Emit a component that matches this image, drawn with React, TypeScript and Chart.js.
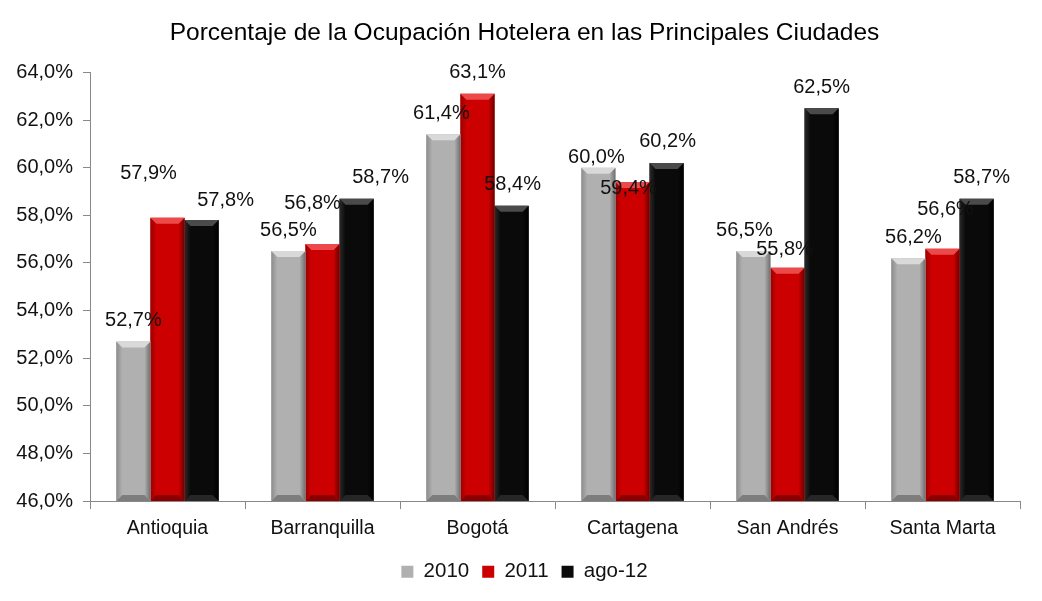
import React, { useEffect, useRef } from "react";
import { Chart, registerables } from "chart.js";
Chart.register(...registerables);

const categories = ["Antioquia", "Barranquilla", "Bogotá", "Cartagena", "San Andrés", "Santa Marta"];
const seriesNames = ["2010", "2011", "ago-12"];
const values2010 = [52.7, 56.5, 61.4, 60.0, 56.5, 56.2];
const values2011 = [57.9, 56.8, 63.1, 59.4, 55.8, 56.6];
const valuesAgo12 = [57.8, 58.7, 58.4, 60.2, 62.5, 58.7];
const yMin = 46;
const yMax = 64;
const yStep = 2;

// label nudges [dx, dy] in px per series / category (styling only)
const labelNudge: number[][][] = [
  [[0, 0], [0, 0], [-2, 0], [-2, 11], [-9, 0], [5, 0]],
  [[-19, -23], [-10, -19], [0, 0], [-4, 28], [-3, 3], [3, -18]],
  [[24, 1], [24, 0], [1, 0], [1, 0], [0, 0], [5, 0]],
];

const faces = ["#b0b0b0", "#cc0000", "#0a0a0a"];
const bevels = [
  { top: "#d9d9d9", left: "#8c8c8c", right: "#6e6e6e", bottom: "#7d7d7d" },
  { top: "#ec4a4a", left: "#9a0000", right: "#6a0000", bottom: "#8a0000" },
  { top: "#4a4a4a", left: "#2a2a2a", right: "#000000", bottom: "#262626" },
];

const FONT = "'Liberation Sans', Arial, sans-serif";
const fmt = (v: number) => v.toFixed(1).replace(".", ",") + "%";

const bevelPlugin = {
  id: "bevel",
  afterDatasetDraw(chart: any, args: any) {
    const i = args.index;
    const meta = chart.getDatasetMeta(i);
    const ctx = chart.ctx;
    const b = 6;
    const c = bevels[i];
    ctx.save();
    meta.data.forEach((el: any) => {
      const L = el.x - el.width / 2;
      const R = el.x + el.width / 2;
      const T = el.y;
      const B = Math.min(el.base, chart.chartArea.bottom);
      const poly = (pts: number[][], fill: any) => {
        ctx.beginPath();
        ctx.moveTo(pts[0][0], pts[0][1]);
        for (let k = 1; k < pts.length; k++) ctx.lineTo(pts[k][0], pts[k][1]);
        ctx.closePath();
        ctx.fillStyle = fill;
        ctx.fill();
      };
      const gl = ctx.createLinearGradient(L, 0, L + b, 0);
      gl.addColorStop(0, c.left);
      gl.addColorStop(1, faces[i]);
      poly([[L, T], [L + b, T + b], [L + b, B - b], [L, B]], gl);
      const gr = ctx.createLinearGradient(R - b, 0, R, 0);
      gr.addColorStop(0, faces[i]);
      gr.addColorStop(1, c.right);
      poly([[R, T], [R - b, T + b], [R - b, B - b], [R, B]], gr);
      poly([[L, T], [R, T], [R - b, T + b], [L + b, T + b]], c.top);
      poly([[L, B], [R, B], [R - b, B - b], [L + b, B - b]], c.bottom);
    });
    ctx.restore();
  },
};

const labelPlugin = {
  id: "valueLabels",
  afterDatasetsDraw(chart: any) {
    const ctx = chart.ctx;
    ctx.save();
    ctx.font = `20px ${FONT}`;
    ctx.fillStyle = "#111";
    ctx.textAlign = "center";
    ctx.textBaseline = "middle";
    chart.data.datasets.forEach((ds: any, i: number) => {
      const meta = chart.getDatasetMeta(i);
      meta.data.forEach((el: any, j: number) => {
        const [dx, dy] = labelNudge[i][j];
        ctx.fillText(fmt(ds.data[j]), el.x + dx, el.y - 21 + dy);
      });
    });
    ctx.restore();
  },
};

export default function App() {
  const ref = useRef<HTMLCanvasElement>(null);
  useEffect(() => {
    document.body.style.margin = "0";
    const chart = new Chart(ref.current!, {
      type: "bar",
      data: {
        labels: categories,
        datasets: [values2010, values2011, valuesAgo12].map((d, i) => ({
          label: seriesNames[i],
          data: d,
          backgroundColor: faces[i],
          borderWidth: 0,
          categoryPercentage: 0.66,
          barPercentage: 1.0,
        })),
      },
      options: {
        responsive: false,
        animation: false,
        layout: { padding: { left: 7, right: 0, top: 0, bottom: 9 } },
        plugins: {
          title: {
            display: true,
            text: "Porcentaje de la Ocupación Hotelera en las Principales Ciudades",
            color: "#000",
            font: { family: FONT, size: 24.5, weight: "normal" },
            padding: { top: 19, bottom: 24 },
          },
          legend: {
            position: "bottom",
            labels: {
              color: "#111",
              font: { family: FONT, size: 20.5 },
              boxWidth: 12,
              boxHeight: 12,
              padding: 13,
            },
          },
          tooltip: { enabled: false },
        },
        scales: {
          x: {
            grid: { drawOnChartArea: false, tickLength: 8, color: "#888", offset: true },
            border: { color: "#888" },
            ticks: { color: "#111", font: { family: FONT, size: 19.5 }, padding: 8 },
          },
          y: {
            min: yMin,
            max: yMax,
            afterFit: (s: any) => { s.width = 83; },
            grid: { drawOnChartArea: false, tickLength: 7, color: "#888" },
            border: { color: "#888" },
            ticks: {
              stepSize: yStep,
              color: "#111",
              font: { family: FONT, size: 20 },
              padding: 10,
              callback: (v: any) => fmt(Number(v)),
            },
          },
          yRight: {
            position: "right",
            min: yMin,
            max: yMax,
            afterFit: (s: any) => { s.width = 22; },
            grid: { display: false, drawOnChartArea: false },
            border: { display: false },
            ticks: { display: false },
          },
        },
      },
      plugins: [bevelPlugin, labelPlugin],
    });
    return () => chart.destroy();
  }, []);
  return (
    <div style={{ width: 1042, height: 601 }}>
      <canvas ref={ref} width={1042} height={601} />
    </div>
  );
}
